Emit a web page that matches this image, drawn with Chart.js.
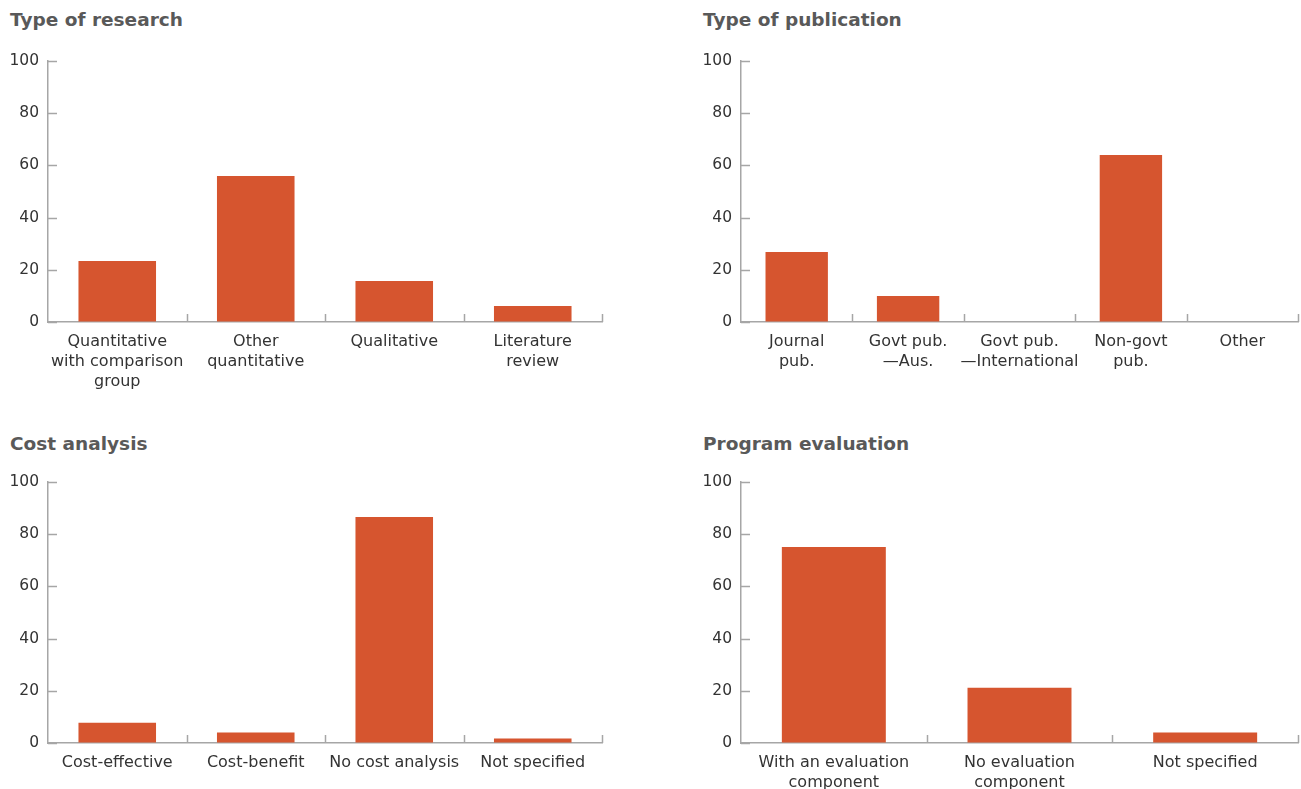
<!DOCTYPE html>
<html>
<head>
<meta charset="utf-8">
<script src="https://cdn.jsdelivr.net/npm/chart.js@4/dist/chart.umd.min.js"></script>
<style>
  html, body { margin: 0; padding: 0; background: #ffffff; }
  body { width: 1301px; height: 789px; position: relative; overflow: hidden; font-family: "DejaVu Sans", Verdana, sans-serif; }
  .title { position: absolute; font-weight: bold; font-size: 18.5px; color: #595959; line-height: 22px; }
  .box { position: absolute; }
</style>
</head>
<body>
<div class="title" style="left:10px; top:9px;">Type of research</div>
<div class="title" style="left:703px; top:9px;">Type of publication</div>
<div class="title" style="left:10px; top:433px;">Cost analysis</div>
<div class="title" style="left:703px; top:433px;">Program evaluation</div>

<div class="box" style="left:0px; top:41px; width:620px; height:361px;"><canvas id="c1"></canvas></div>
<div class="box" style="left:693px; top:41px; width:608px; height:361px;"><canvas id="c2"></canvas></div>
<div class="box" style="left:0px; top:462px; width:620px; height:327px;"><canvas id="c3"></canvas></div>
<div class="box" style="left:693px; top:462px; width:608px; height:327px;"><canvas id="c4"></canvas></div>

<script>
// ---- Data ----
const researchLabels = [["Quantitative", "with comparison", "group"], ["Other", "quantitative"], "Qualitative", ["Literature", "review"]];
const researchValues = [23.4, 55.9, 15.7, 6.1];

const publicationLabels = [["Journal", "pub."], ["Govt pub.", "\u2014Aus."], ["Govt pub.", "\u2014International"], ["Non-govt", "pub."], "Other"];
const publicationValues = [26.8, 10.0, 0.2, 64.0, 0];

const costLabels = ["Cost-effective", "Cost-benefit", "No cost analysis", "Not specified"];
const costValues = [7.8, 4.0, 86.6, 1.7];

const evaluationLabels = [["With an evaluation", "component"], ["No evaluation", "component"], "Not specified"];
const evaluationValues = [75.1, 21.2, 4.0];

const yTicks = [0, 20, 40, 60, 80, 100];

// ---- Styling ----
const BAR_COLOR = "#d6552f";
const AXIS_COLOR = "#a6a6a6";
const TEXT_COLOR = "#333333";
const X_FONT = { family: "'DejaVu Sans', Verdana, sans-serif", size: 16, lineHeight: 1.25 };
const Y_FONT = { family: "'DejaVu Sans', Verdana, sans-serif", size: 15.5, lineHeight: 1.25 };

// Draw short inward tick marks on both axes
const innerTicks = {
  id: "innerTicks",
  afterDraw(chart) {
    const ctx = chart.ctx;
    const x = chart.scales.x, y = chart.scales.y;
    ctx.save();
    ctx.strokeStyle = AXIS_COLOR;
    ctx.lineWidth = 1.5;
    ctx.beginPath();
    const left = chart.chartArea.left;
    y.ticks.forEach(t => {
      const py = Math.round(y.getPixelForValue(t.value)) + 0.5;
      ctx.moveTo(left, py);
      ctx.lineTo(left + 9, py);
    });
    const n = chart.data.labels.length;
    const bottom = chart.chartArea.bottom;
    for (let i = 1; i <= n; i++) {
      const px = Math.round(x.getPixelForValue(i - 0.5)) + 0.5;
      ctx.moveTo(px, bottom);
      ctx.lineTo(px, bottom - 8);
    }
    ctx.stroke();
    ctx.restore();
  }
};

function makeChart(id, labels, values, xHeight, padRight) {
  return new Chart(document.getElementById(id), {
    type: "bar",
    data: {
      labels: labels,
      datasets: [{
        data: values,
        backgroundColor: BAR_COLOR,
        borderWidth: 0,
        categoryPercentage: 1.0,
        barPercentage: 0.56
      }]
    },
    options: {
      responsive: true,
      maintainAspectRatio: false,
      animation: false,
      layout: { padding: { left: 10, top: 20, right: padRight, bottom: 0 } },
      plugins: { legend: { display: false }, tooltip: { enabled: false }, title: { display: false } },
      scales: {
        x: {
          offset: true,
          grid: { display: true, drawOnChartArea: false, drawTicks: false, color: "rgba(0,0,0,0)" },
          border: { display: true, color: AXIS_COLOR, width: 1.5 },
          ticks: { color: TEXT_COLOR, font: X_FONT, padding: 10, maxRotation: 0, autoSkip: false },
          afterFit(scale) { scale.height = xHeight; }
        },
        y: {
          min: 0,
          max: 100,
          afterBuildTicks(scale) { scale.ticks = yTicks.map(v => ({ value: v })); },
          grid: { display: true, drawOnChartArea: false, drawTicks: false, color: "rgba(0,0,0,0)" },
          border: { display: true, color: AXIS_COLOR, width: 1.5 },
          ticks: { color: TEXT_COLOR, font: Y_FONT, padding: 9 },
          afterFit(scale) { scale.width = 38; }
        }
      }
    },
    plugins: [innerTicks]
  });
}

makeChart("c1", researchLabels, researchValues, 80, 18);
makeChart("c2", publicationLabels, publicationValues, 80, 3);
makeChart("c3", costLabels, costValues, 46, 18);
makeChart("c4", evaluationLabels, evaluationValues, 46, 3);
</script>
</body>
</html>
